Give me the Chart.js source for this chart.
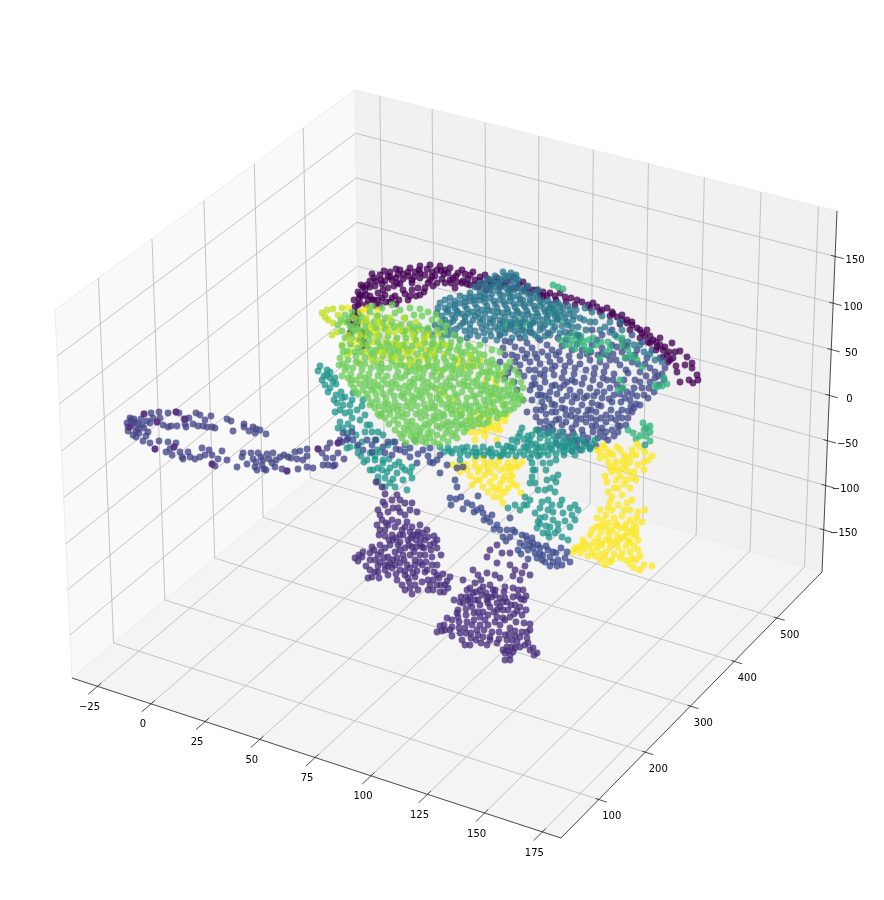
<!DOCTYPE html>
<html>
<head>
<meta charset="utf-8">
<title>3D scatter</title>
<script src="https://cdn.jsdelivr.net/npm/chart.js@4"></script>
<style>
    body { margin: 0; background: #fff; }
    canvas { display: block; }
</style>
</head>
<body>
<canvas id="scatter3d" width="884" height="900"></canvas>
<script>
// ============================
// DATA (ticks and clusters, points read off the projected view)
// ============================
const xTicks = [-25, 0, 25, 50, 75, 100, 125, 150, 175];
const yTicks = [100, 200, 300, 400, 500];
const zTicks = [-150, -100, -50, 0, 50, 100, 150];

const xLimits = [-37, 183];
const yLimits = [21, 609];
const zLimits = [-198, 198];

const rimPoints = [[352,325],[353,316],[355,307],[359,298],[363,287],[370,281],[380,275],[390,272],[400,270],[410,268],[420,266],[430,265],[440,266],[450,268],[462,270],[473,272],[485,275],[497,278],[513,277],[523,282],[537,290],[550,293],[565,297],[577,300],[597,307],[617,317],[627,323],[637,328],[645,336],[650,343],[657,347],[663,350],[670,360],
[360,303],[366,295],[375,286],[385,281],[396,278],[408,276],[420,273],[432,272],[444,274],[456,276],[468,279],[480,281],[492,284],[505,284],[516,288],[530,293],[543,297],[612,312],[622,320],[632,325],[642,333],[653,340],[358,314],[357,325],[362,332],[364,342],[361,285],[372,274],[384,271],[396,269],[415,272],[427,269],[445,270],[465,274],[378,293],[388,288],[400,284],[412,283],[382,298],[395,296],[408,300],[420,295],[433,286],[445,283],[455,288],[405,294],[418,288],[430,280],[470,285],[486,290],
[672,343],[660,338],[680,351],[687,357],[692,363],[697,375],[693,383],[680,382],[677,372],[692,368],[676,366],[685,365],[689,380],[698,380],
[350,333],[349,322],[356,320],[354,300],[358,292],[365,290],[370,287],[376,281],[382,284],[388,276],[392,280],[398,274],[403,279],[408,272],[414,277],[419,270],[425,275],[432,277],[437,270],[442,279],[448,273],[453,278],[458,273],[463,281],[470,275],[475,280],[480,277],[488,279],[495,281],[502,282],[508,281],[519,284],[527,287],[533,290],[543,292],[555,296],[560,293],[571,298],[582,302],[588,305],[593,303],[602,310],[607,308],[613,314],[622,315],[627,320],[632,322],[640,330],[647,330],[650,336],[656,342],[660,345],[667,355],[663,357],[673,358],[669,352],[370,296],[374,300],[385,295],[392,298],[399,300],[412,290],[425,288],[437,283],[450,280],[462,283],[475,285],[490,287],[403,290],[416,296],[390,302],[380,305],[360,340],[362,336],[363,346],[358,322],[372,300],[366,305],[360,295],[394,286],[383,290],
[355,312],[352,330],[358,305],[362,296],[367,285],[374,278],[381,280],[390,277],[397,283],[403,274],[412,280],[420,278],[428,283],[435,276],[441,271],[451,283],[457,282],[467,284],[478,287],[483,284],[490,282],[500,287],[510,289],[525,290],[540,295],[547,296],[556,300],[566,302],[575,305],[590,308],[600,312],[610,316],[620,324],[630,330],[640,338],[648,342],[656,350],[665,347],[675,352],[668,362],[378,300],[386,302],[396,304],[376,306],[368,300],[410,296],[424,292]];

const loopPoints = [[144,414],[151,413],[159,412],[168,413],[176,412],[179,413],[196,413],[200,415],[211,416],[205,420],[189,418],[184,419],[227,419],[231,421],[244,424],[244,427],[253,427],[260,430],[266,434],[233,431],[255,433],[215,428],[212,427],[203,426],[193,424],[185,424],[177,426],[171,426],[163,425],[157,422],[150,423],[141,419],[131,420],[127,423],[128,427],[133,435],[136,437],[143,441],[150,443],[155,449],[159,441],[168,442],[174,447],[166,452],[172,455],[180,452],[188,452],[183,459],[195,459],[200,457],[202,448],[205,455],[212,455],[222,451],[227,460],[215,466],[212,464],[237,467],[242,457],[243,453],[251,453],[258,453],[253,459],[247,464],[255,467],[263,460],[267,454],[273,453],[280,457],[288,457],[295,452],[300,451],[307,449],[297,459],[303,460],[307,456],[318,449],[327,448],[338,443],[342,442],[330,443],[322,453],[333,458],[338,453],[344,459],[323,465],[328,465],[335,465],[313,468],[307,467],[298,469],[287,471],[282,469],[275,467],[272,463],[266,470],[257,470],[262,465],[132,425],[136,431],[130,418],[138,424],[144,428],[148,432],[138,429],[146,436],[135,422],[128,431],[153,418],[160,418],
[134,419],[142,425],[139,433],[147,421],[168,427],[186,427],[198,426],[207,427],[256,429],[249,431],[176,443],[182,457],[170,449],[190,457],[209,450],[218,459],[261,457],[269,459],[276,460],[284,455],[291,458],[256,462],[264,469],[333,466],[326,458],[347,440]];

const loopPurple = [[144,414],[176,412],[157,422],[174,447],[155,449],[212,464],[287,471],[318,449],[338,443],[185,419],[130,427]];

const bowlPoints = [[500,335],[510,342],[520,338],[530,332],[540,340],[548,333],[558,338],[570,333],[580,338],[592,330],[602,335],[612,330],[622,340],[632,335],[642,342],[652,350],[660,358],[665,368],[658,376],[650,368],[640,372],[632,362],[622,352],[612,345],[602,348],[592,345],[582,350],[572,350],[562,346],[552,350],[542,352],[532,348],[522,350],[512,355],[503,348],
[500,362],[510,368],[520,365],[530,362],[540,364],[550,362],[560,360],[570,362],[580,364],[590,360],[600,362],[610,360],[620,365],[628,373],[640,382],[650,382],[654,392],[644,395],[634,388],[624,380],[614,374],[604,372],[594,374],[584,378],[574,374],[564,372],[554,375],[544,376],[534,378],[524,376],[514,382],[505,378],
[530,390],[540,388],[550,392],[560,388],[570,390],[580,392],[590,388],[600,385],[610,388],[620,394],[630,400],[640,405],[632,412],[622,410],[612,402],[602,398],[592,403],[582,405],[572,402],[562,400],[552,404],[542,402],[532,400],[536,410],[546,414],[556,412],[566,415],[576,418],[586,415],[596,412],[606,415],[616,420],[626,425],[612,430],[602,428],[592,426],[582,430],[572,428],[562,425],[552,424],[540,422],[548,433],[558,436],[568,437],[578,440],[588,438],[598,438],[608,440],[590,448],[580,450],[570,443],[600,432],[618,432],[628,418],[545,396],[575,382],[595,368],[655,378],[664,380],[647,358],[517,390],[523,400],[527,412],
[505,341],[515,347],[527,343],[535,354],[547,345],[556,355],[566,340],[577,344],[587,354],[597,340],[607,355],[617,347],[627,346],[637,350],[646,376],[638,364],[515,362],[525,358],[535,370],[545,370],[555,366],[565,366],[575,368],[586,370],[598,355],[606,366],[616,360],[626,358],[535,384],[545,382],[555,385],[567,382],[577,398],[587,396],[597,392],[607,380],[617,385],[627,392],[637,396],[538,395],[549,399],[557,394],[567,396],[572,410],[562,408],[552,412],[541,410],[591,410],[601,406],[611,410],[621,402],[631,406],[536,417],[546,421],[556,420],[566,422],[576,424],[586,422],[596,420],[606,422],[618,426],[553,430],[563,432],[573,433],[583,435],[593,432],[604,437],[577,446],[586,443],[572,451],[544,428],[635,380],[626,370],[649,388],[659,385],
[505,355],[517,357],[527,354],[537,358],[548,356],[559,352],[569,356],[580,356],[591,352],[602,354],[613,354],[624,346],[635,355],[645,364],[655,372],[662,374],[508,373],[519,372],[529,370],[540,374],[552,369],[562,378],[572,380],[582,384],[593,380],[603,378],[613,380],[622,388],[632,394],[642,388],[648,398],[636,404],[532,385],[541,395],[552,386],[564,385],[574,396],[584,398],[594,396],[604,392],[614,395],[625,398],[634,408],[544,407],[555,405],[565,409],[578,411],[588,410],[598,405],[609,399],[618,414],[628,411],[538,430],[549,427],[559,419],[571,416],[581,419],[591,418],[601,418],[611,418],[622,418],[556,443],[565,447],[574,440],[585,442],[596,446],[606,432],[596,426],[614,436],[620,426]];

const lowerBluePoints = [[343,433],[353,440],[363,450],[367,440],[383,447],[400,450],[410,457],[423,450],[433,463],[417,463],[463,467],[376,440],[392,455],[405,445],[440,455],[430,448],[415,440],[395,442],[372,452],[430,462],[447,465],[457,468],[440,473],[455,480],[457,487],[450,498],[456,499],[467,503],[461,497],[477,510],[472,505],[483,513],[487,518],[492,515],[497,525],[490,522],[503,537],[484,520],[478,496],[510,518],[513,530],
[522,535],[527,540],[533,543],[540,548],[528,550],[535,553],[543,555],[550,557],[558,560],[565,558],[570,562],[562,565],[553,562],[545,562],[537,558],[530,545],[520,543],[515,532],[510,537],[524,546],[548,550],[556,553],[567,552],[542,560],[533,548],[518,550],
[348,438],[358,445],[372,445],[388,442],[396,449],[405,452],[418,454],[428,456],[437,460],[410,448],[385,453],[352,432],[340,440],[451,505],[463,509],[474,512],[481,508],[494,529],[500,530],[526,536],[538,545],[546,546],[553,552],[561,548],[550,566],[557,566],[540,554],[532,538],[507,530],[506,541],[521,554],[528,559]];

const legPoints = [[382,487],[385,494],[383,502],[397,495],[400,500],[405,503],[412,503],[417,512],[410,510],[405,515],[380,515],[377,525],[385,530],[382,520],[388,512],[358,561],[355,558],[362,557],[370,553],[378,555],[385,548],[393,540],[400,535],[410,532],[420,525],[425,540],[430,545],[420,555],[410,555],[400,550],[395,565],[385,570],[375,572],[372,577],[385,565],[445,585],[440,592],[433,580],[425,572],[437,565],[428,590],[415,585],[405,575],[402,585],[405,590],[392,535],[400,542],[408,540],[416,540],[412,547],[404,560],[395,552],[388,557],[415,565],[425,555],[432,557],[422,565],[410,568],[400,570],[390,545],[380,562],[378,572],[370,570],[368,578],[418,532],[427,530],[434,536],[437,548],[415,577],[433,590],[428,580],[397,580],[443,574],[450,577],[388,575],
[497,545],[487,557],[497,563],[473,570],[487,573],[463,580],[467,590],[510,553],[515,570],[525,566],[530,575],[520,580],[437,632],[447,618],[457,613],[463,603],[473,593],[483,587],[497,603],[513,597],[523,590],[520,607],[510,617],[520,637],[537,653],[530,650],[510,655],[505,653],[497,643],[483,637],[470,645],[465,645],[445,630],[452,627],[459,622],[466,615],[472,607],[478,600],[488,597],[490,607],[483,612],[474,620],[465,628],[460,633],[477,630],[488,625],[497,617],[503,610],[507,602],[510,628],[516,622],[522,615],[505,635],[512,640],[520,647],[528,643],[515,648],[470,597],[482,595],[495,595],[475,583],[490,585],[504,592],[466,609],[478,612],[452,620],[458,610],[500,625],[492,632],[476,640],[507,647],[530,624],[527,632],[505,660],[510,660],
[392,520],[379,535],[386,523],[389,540],[395,527],[402,530],[407,522],[412,527],[417,535],[423,533],[398,545],[405,548],[414,552],[422,547],[431,550],[437,540],[407,565],[403,555],[393,560],[381,552],[370,560],[363,552],[372,547],[380,545],[388,566],[396,574],[417,571],[426,562],[434,572],[439,578],[422,582],[412,594],[409,582],[437,585],[444,592],[447,581],[378,566],[415,560],[400,563],[411,538],[420,544],[393,508],[398,508],[376,482],
[470,603],[476,592],[466,597],[486,593],[480,605],[474,613],[467,622],[459,628],[452,636],[444,625],[487,600],[494,612],[503,602],[508,610],[515,605],[521,599],[497,610],[485,620],[480,625],[471,633],[484,630],[490,640],[503,618],[499,632],[509,634],[515,631],[524,623],[517,642],[525,645],[533,648],[503,650],[513,652],[508,651],[471,638],[462,640],[493,590],[505,598],[513,588],[518,596],[524,600],[461,597],[454,600],[495,575],[481,580],[510,565],[490,550],[502,553],
[385,505],[392,500],[400,512],[378,510],[388,525],[380,530],[385,536],[398,522],[405,527],[413,535],[421,538],[396,538],[403,535],[409,545],[416,547],[424,548],[428,537],[434,543],[441,555],[420,562],[427,570],[413,573],[405,571],[397,558],[390,563],[384,558],[375,560],[366,566],[374,550],[359,555],[379,578],[392,568],[408,578],[418,590],[410,588],[430,585],[437,575],[432,565],[441,585],[448,588],
[468,600],[475,600],[480,590],[488,603],[492,597],[500,598],[511,605],[517,611],[514,614],[505,620],[495,622],[488,615],[480,617],[472,625],[466,633],[458,617],[450,630],[442,631],[440,626],[478,635],[490,637],[499,639],[507,640],[515,636],[522,632],[527,638],[530,630],[534,655],[512,647],[487,645],[481,643],[500,607],[495,590],[505,587],[526,610],[518,590],[526,596],[460,602],[470,588],[478,575],[500,578],[513,576],[522,573]];

const capPoints = [[505,276],[512,279],[500,283],[510,285],[520,288],[490,287],[480,292],[470,293],[460,296],[450,298],[498,291],[508,293],[518,296],[528,294],[538,298],[548,301],[558,303],[568,306],[576,310],[440,303],[450,305],[460,303],[470,301],[480,300],[490,298],[500,300],[510,301],[520,303],[530,303],[540,306],[550,308],[560,312],[570,314],[580,318],[590,322],[437,313],[447,312],[457,311],[467,309],[477,308],[487,306],[497,308],[507,309],[517,311],[527,311],[537,313],[547,318],[557,320],[567,322],[578,327],[600,330],[610,322],[445,320],[455,318],[465,317],[475,316],[485,314],[495,316],[505,317],[515,319],[525,319],[535,321],[545,325],[555,327],[565,332],[440,328],[460,326],[470,324],[480,323],[490,323],[500,324],[510,326],[520,327],[530,329],[540,330],[455,335],[475,331],[490,331],[505,333],[518,334],[432,335],[467,338],[497,340],[485,340],[510,291],[518,280],[528,286],[538,290],[592,312],[602,316],[622,330],[634,345],[644,352],[655,360],[487,279],[495,276],[503,272],[511,273],[516,275],[480,283],
[495,283],[505,280],[515,284],[485,285],[475,287],[492,294],[503,296],[513,297],[523,300],[533,298],[543,303],[553,305],[563,308],[475,297],[485,295],[465,298],[455,301],[445,308],[455,308],[465,306],[475,304],[485,302],[495,304],[505,305],[515,307],[525,307],[535,309],[545,312],[555,316],[565,318],[573,320],[442,316],[452,315],[462,314],[472,312],[482,310],[492,311],[502,313],[512,315],[522,315],[532,317],[542,320],[552,323],[562,326],[572,327],[450,323],[465,321],[480,318],[490,319],[500,320],[510,322],[520,323],[530,325],[540,325],[450,330],[465,331],[482,328],[495,327],[505,329],[515,331],[525,332],[535,335],[550,335],[442,336],[460,340],[478,336],[491,336],[512,338],[435,325],[428,330],[500,287],[522,292],[585,308],[595,322],[605,327],[615,335],[628,342],[640,345],[650,354],[662,362],[586,330],[578,335],[620,322],[610,332],
[500,279],[508,276],[516,278],[492,280],[484,288],[494,287],[506,288],[514,290],[524,290],[534,293],[470,297],[480,296],[490,290],[500,294],[510,297],[520,299],[530,300],[540,301],[550,304],[560,306],[570,310],[445,300],[455,305],[465,302],[474,300],[484,298],[494,301],[504,302],[514,304],[524,305],[534,306],[544,309],[554,311],[564,314],[574,316],[584,320],[438,308],[448,310],[458,313],[468,314],[478,313],[488,310],[498,312],[508,312],[518,313],[528,314],[538,316],[548,315],[558,318],[568,325],[442,322],[453,321],[463,323],[473,320],[483,320],[493,321],[503,322],[513,324],[523,322],[533,323],[543,328],[553,330],[446,328],[456,329],[470,329],[486,326],[498,330],[510,329],[522,330],[532,333],[448,335],[470,335],[484,333],[500,335],[525,338],[538,338],[545,336],[560,333]];

const greenPoints = [[553,285],[558,287],[563,289],[548,311],[553,313],[557,315],[567,337],[572,340],[578,343],[584,346],[590,350],[574,333],[581,336],[589,340],[596,345],[507,323],[514,325],[523,327],[529,323],[617,337],[622,345],[628,350],[632,357],[637,360],[657,387],[662,386],[667,384],[664,378],[643,423],[646,428],[650,432],[650,441],[633,433],[640,436],[620,380],[623,388],[618,390],[600,358],[606,352],[565,345],[560,340],[548,322],[642,367],[655,385],[608,342],
[550,308],[555,309],[560,320],[570,345],[576,336],[583,341],[593,338],[601,342],[575,349],[586,351],[610,348],[502,328],[518,321],[644,430],[650,426],[636,439],[628,430],[646,436],[630,355],[625,358],[622,338]];

const ringPoints = [[440,447],[448,448],[456,449],[464,451],[472,452],[480,452],[488,451],[496,453],[504,452],[512,451],[520,452],[528,450],[536,451],[544,452],[552,450],[560,449],[568,449],[576,448],[584,446],[592,444],[517,442],[524,439],[532,435],[540,438],[548,441],[556,440],[564,438],[572,441],[520,433],[528,443],[536,444],[546,446],[558,445],[507,446],[498,445],[512,440],[580,440],[532,463],[533,470],[532,477],[535,483],[543,463],[550,463],[558,475],[547,480],[550,488],[555,492],[562,500],[542,502],[540,508],[545,517],[550,527],[555,533],[543,533],[570,508],[578,510],[563,513],[570,527],[568,540],[562,537],[527,505],[515,505],[508,508],[525,497],[540,518],[548,510],[553,520],[537,528],[558,524],[530,458],[538,456],[556,460],[564,455],[575,455],
[318,371],[327,370],[322,380],[330,378],[333,382],[328,392],[337,403],[345,397],[353,393],[363,400],[335,412],[345,413],[357,410],[340,422],[347,433],[350,447],[358,453],[370,470],[378,477],[383,460],[377,450],[370,425],[383,435],[393,442],[330,388],[324,376],[336,395],[350,405],[343,405],[365,415],[348,424],[356,435],[365,432],[375,440],[362,442],[347,448],[370,453],[383,463],[373,470],[397,473],[412,467],[390,483],[412,478],[407,490],[357,447],[364,462],[378,468],[387,472],[395,465],[403,480],[378,482],[385,478],[460,460],[645,445],
[444,452],[452,453],[460,454],[468,455],[476,456],[484,455],[492,456],[500,456],[508,455],[516,456],[524,455],[532,454],[540,455],[548,455],[556,454],[564,452],[572,451],[582,450],[590,449],[524,447],[532,445],[541,447],[552,445],[567,443],[528,436],[536,430],[522,428],[545,435],[553,436],[563,442],[575,436],[510,447],[503,449],[491,449],[483,447],[475,448],[467,447],[330,372],[320,366],[334,400],[340,410],[352,418],[343,428],[360,420],[372,432],[336,384],[341,392],[352,400],[380,452],[367,460],[375,460],[389,459],[399,462],[405,470],[393,479],[385,487],[361,456],[546,470],[538,490],[556,482],[548,500],[535,470],[530,483],[552,505],[572,515],[546,526],[540,524],[549,537],[553,512],[565,521],[535,513],[520,510],[575,520],[524,505],
[450,451],[462,448],[476,453],[490,453],[502,455],[514,448],[526,448],[538,448],[550,448],[562,446],[530,440],[540,433],[550,431],[518,437],[560,432],[572,445],[584,442],[595,440],[327,375],[335,378],[325,385],[342,398],[350,412],[362,406],[338,428],[352,428],[367,425],[378,432],[388,445],[375,456],[390,468],[402,467],[395,487],[410,472],[382,470],[545,490],[553,478],[560,505],[575,505],[548,533],[558,530],[538,522],[530,500]];

const rearYellowPoints = [[597,450],[603,445],[610,452],[617,447],[624,455],[632,450],[640,447],[648,460],[652,456],[600,458],[608,462],[616,462],[622,468],[630,462],[638,465],[644,470],[612,472],[620,476],[628,472],[636,480],[607,482],[614,488],[630,488],[608,492],[622,495],[632,500],[610,502],[618,505],[630,510],[638,512],[600,510],[597,518],[606,515],[614,518],[622,516],[630,520],[637,518],[645,510],[596,527],[604,526],[612,530],[620,528],[628,532],[636,528],[642,522],[590,535],[598,538],[606,540],[614,542],[622,538],[630,542],[638,540],[583,540],[590,546],[578,548],[597,548],[606,552],[614,554],[630,552],[638,550],[573,552],[580,553],[588,556],[600,560],[610,562],[626,560],[636,560],[634,568],[644,565],[652,566],[640,570],[605,565],[612,560],
[467,470],[475,460],[483,458],[491,462],[500,458],[508,463],[515,460],[522,462],[452,465],[460,472],[470,476],[480,468],[490,472],[500,470],[510,472],[480,480],[490,482],[500,484],[510,480],[517,486],[521,493],[496,490],[505,492],[500,497],[508,488],[472,485],[488,492],[470,418],[480,425],[490,420],[500,418],[507,415],[495,430],[485,436],[475,440],[490,410],[503,405],[470,432],[497,440],
[605,448],[613,455],[627,458],[636,455],[644,462],[614,466],[626,466],[634,472],[616,480],[624,484],[612,497],[627,503],[624,510],[608,508],[603,520],[609,523],[617,524],[626,524],[634,524],[601,532],[609,535],[617,535],[625,536],[633,535],[594,542],[602,545],[610,547],[618,547],[626,546],[634,546],[585,549],[592,552],[601,554],[622,553],[632,558],[475,466],[485,464],[495,466],[505,468],[515,467],[462,465],[485,475],[495,477],[505,476],[483,487],[494,497],[503,503],[512,476],[472,425],[482,431],[490,427],[498,424],[505,421],[485,416],[496,412],[479,418],
[600,452],[620,450],[637,444],[645,452],[606,456],[623,461],[632,455],[610,468],[618,470],[605,476],[626,480],[632,478],[618,488],[612,510],[600,526],[608,530],[616,525],[625,528],[632,530],[592,530],[600,543],[610,541],[618,541],[628,541],[636,534],[581,546],[595,556],[605,558],[620,558],[630,564],[640,556],[575,548],[585,543],[488,468],[478,472],[466,465],[458,466],[498,462],[510,467],[518,466],[476,480],[493,487],[503,480],[513,484],[500,490],[478,412],[492,425],[500,430],[486,430],[476,433]];

const limePoints = [[322,313],[327,310],[333,309],[342,308],[328,320],[333,323],[343,322],[332,335],[337,332],[325,317],[338,315],[362,322],[370,325],[378,330],[386,328],[394,332],[404,334],[414,338],[424,342],[432,345],[366,336],[374,342],[382,346],[392,344],[402,348],[412,352],[422,356],[370,356],[380,360],[390,358],[400,362],[410,366],[420,368],[434,358],[444,354],[450,346],[470,362],[480,360],[490,372],[500,374],[438,334],[360,312],[368,308],[376,316],[355,330],[348,335],[445,395],[460,412],[350,352],[358,362],[440,372],
[366,318],[372,328],[382,322],[390,325],[398,326],[408,328],[418,330],[428,333],[358,340],[368,345],[376,352],[386,340],[396,340],[406,342],[416,346],[426,350],[436,350],[352,345],[364,352],[396,354],[406,356],[416,360],[428,365],[456,358],[464,368],[476,366],[486,380],[496,385],[492,395],[452,400],[438,390],[354,318],[342,345],[347,355]];

const leafPoints = [[345,315],[352,312],[361,317],[370,312],[378,316],[386,318],[395,313],[405,318],[414,315],[422,316],[432,320],[440,322],[338,325],[347,322],[356,325],[365,328],[374,322],[383,323],[392,322],[401,325],[410,324],[419,326],[428,328],[437,330],[445,332],[454,335],[345,338],[353,332],[361,338],[370,334],[379,336],[388,336],[397,338],[406,338],[415,333],[424,336],[433,338],[442,340],[451,342],[460,340],[468,345],[342,346],[350,344],[358,348],[367,346],[376,350],[385,350],[394,350],[403,345],[412,346],[421,349],[430,350],[439,350],[448,352],[457,350],[466,352],[475,350],[484,355],[492,360],[340,358],[348,360],[356,356],[365,358],[374,362],[383,356],[392,362],[401,358],[410,359],[419,362],[428,360],[437,362],[446,362],[455,360],[463,362],[472,359],[481,366],[490,366],[498,368],[345,370],[353,368],[362,370],[371,368],[380,372],[389,368],[398,372],[407,372],[416,372],[425,368],[434,372],[443,370],[452,372],[461,368],[470,372],[479,375],[488,378],[497,380],[505,372],[348,378],[356,380],[365,378],[374,382],[383,380],[392,382],[401,378],[410,382],[419,378],[428,382],[437,380],[446,382],[455,378],[464,381],[473,382],[482,385],[491,388],[500,390],[508,385],[354,388],[363,390],[372,390],[381,388],[390,392],[399,388],[408,392],[417,390],[426,392],[435,388],[444,392],[453,388],[462,392],[471,390],[480,394],[489,397],[498,400],[507,396],[516,392],[368,398],[377,400],[386,398],[395,402],[404,398],[413,402],[422,398],[431,402],[440,400],[449,398],[458,402],[467,398],[476,402],[485,405],[494,408],[503,405],[512,402],[520,396],[375,408],[384,410],[393,408],[402,412],[411,408],[420,412],[429,408],[438,412],[447,408],[456,411],[465,408],[474,412],[483,414],[492,412],[500,414],[510,410],[518,404],[385,418],[394,420],[403,417],[412,421],[421,418],[430,422],[439,418],[448,422],[457,418],[466,421],[475,420],[484,424],[395,430],[404,428],[413,432],[422,428],[431,432],[440,428],[449,430],[458,428],[467,428],[402,438],[411,436],[425,438],[434,442],[443,438],[452,436],[428,433],[518,375],[510,362],[500,352],[492,350],[480,345],
[349,318],[357,320],[366,322],[342,331],[351,328],[360,332],[369,340],[378,342],[387,343],[396,345],[405,331],[414,328],[423,330],[432,344],[441,346],[450,348],[459,346],[347,351],[355,352],[363,343],[372,354],[381,364],[390,352],[399,352],[408,351],[417,354],[426,355],[435,356],[444,358],[453,366],[462,356],[471,355],[343,364],[351,374],[360,364],[369,374],[378,367],[387,376],[396,366],[405,366],[414,366],[423,374],[432,366],[441,376],[450,366],[459,374],[468,366],[477,360],[486,372],[495,374],[351,384],[360,384],[369,386],[378,376],[396,377],[405,386],[414,384],[423,386],[432,376],[450,385],[468,386],[477,386],[486,391],[495,394],[504,380],[358,394],[367,394],[376,394],[385,404],[394,396],[403,393],[412,396],[421,392],[430,396],[439,394],[448,404],[457,396],[466,404],[475,396],[484,400],[493,402],[502,398],[511,395],[372,403],[381,414],[390,414],[399,406],[408,402],[417,406],[426,416],[435,406],[444,416],[453,405],[462,414],[471,406],[480,410],[489,416],[505,410],[514,408],[378,414],[398,424],[407,422],[416,426],[425,424],[434,416],[443,424],[452,425],[461,424],[470,416],[408,430],[417,436],[426,443],[437,435],[446,433],[455,433],[463,425],[406,443],[416,442],[480,418],[490,403],[512,381],[506,366],
[372,306],[382,308],[392,305],[400,310],[410,308],[420,309],[428,312],[436,315],[446,326],[341,320],[350,326],[358,329],[367,332],[376,328],[385,329],[394,327],[403,331],[412,330],[343,352],[352,338],[361,352],[370,350],[380,347],[389,346],[398,348],[407,349],[416,340],[425,343],[434,344],[443,345],[452,357],[461,352],[470,347],[479,354],[487,362],[494,364],[339,365],[347,367],[356,362],[365,364],[374,356],[383,368],[392,356],[401,365],[410,371],[419,368],[428,366],[437,368],[446,368],[455,370],[464,374],[473,366],[482,372],[490,372],[499,375],[507,367],[515,370],[521,382],[342,376],[351,380],[360,376],[369,380],[378,385],[387,384],[396,384],[405,376],[414,379],[423,380],[432,386],[441,386],[450,378],[459,384],[468,378],[477,380],[486,385],[495,388],[504,390],[513,386],[523,388],[356,392],[365,384],[374,388],[383,394],[392,388],[401,396],[410,387],[419,396],[428,388],[437,398],[446,388],[455,394],[464,386],[473,396],[482,390],[491,393],[500,396],[509,391],[518,398],[370,405],[379,406],[388,404],[397,410],[406,406],[415,398],[424,404],[433,408],[442,404],[451,410],[460,406],[469,410],[478,406],[487,410],[496,412],[505,414],[514,398],[523,400],[380,416],[389,410],[398,416],[407,414],[416,414],[425,410],[434,420],[443,414],[452,414],[461,416],[470,422],[479,424],[488,422],[497,418],[506,404],[389,424],[400,434],[410,426],[419,431],[428,426],[437,426],[446,426],[455,422],[464,432],[473,426],[414,440],[422,441],[430,438],[439,444],[448,442],[457,438],[420,434],[404,434]];

const limeTopPoints = [[366,320],[378,322],[390,318],[400,330],[412,334],[424,338],[376,336],[388,332],[398,345],[408,352],[420,345],[432,354],[382,352],[372,360],[360,335],[350,340],[445,345],[470,356],[395,358],[410,362],[404,318],[416,322]];

const fleckPoints = [[348,308],[378,310],[426,337],[380,325],[360,345],[460,360],[470,365],[495,380],[385,352],[375,333],[415,342],[428,352],[438,345],[403,350],[425,358],[368,330],[458,365],[364,310]];

const datasets = [];

// ============================
// PERSPECTIVE MAPPING FOR THE PANES
// ============================
function quadMapper(p0, p1, p2, p3) {
    const dx1 = p1[0] - p2[0], dx2 = p3[0] - p2[0], sx = p0[0] - p1[0] + p2[0] - p3[0];
    const dy1 = p1[1] - p2[1], dy2 = p3[1] - p2[1], sy = p0[1] - p1[1] + p2[1] - p3[1];
    const den = dx1 * dy2 - dx2 * dy1;
    const g = (sx * dy2 - dx2 * sy) / den;
    const h = (dx1 * sy - sx * dy1) / den;
    const a = p1[0] - p0[0] + g * p1[0], b = p3[0] - p0[0] + h * p3[0];
    const d = p1[1] - p0[1] + g * p1[1], e = p3[1] - p0[1] + h * p3[1];
    return (u, v) => {
        const w = g * u + h * v + 1;
        return { x: (a * u + b * v + p0[0]) / w, y: (d * u + e * v + p0[1]) / w };
    };
}

const frontLeft = [72, 678], front = [561, 838], right = [822, 572], back = [360, 436];
const topLeft = [55, 310], topBack = [355, 90], topRight = [837, 211];

const floorPane = quadMapper(frontLeft, front, right, back);   // u = x, v = y
const leftPane = quadMapper(frontLeft, back, topBack, topLeft); // u = y, v = z
const rightPane = quadMapper(back, right, topRight, topBack);  // u = x, v = z

const frac = (value, limits) => (value - limits[0]) / (limits[1] - limits[0]);

function addLine(points, color, width, order) {
    datasets.push({
        data: points, showLine: true, pointRadius: 0,
        borderColor: color, borderWidth: width, order: order
    });
}

function addPane(pane, color) {
    datasets.push({
        data: [pane(0, 0), pane(1, 0), pane(1, 1), pane(0, 1), pane(0, 0)],
        showLine: true, pointRadius: 0, fill: "shape",
        backgroundColor: color, borderColor: "#ececec", borderWidth: 1, order: 100
    });
}

addPane(leftPane, "#f9f9f9");
addPane(rightPane, "#f1f1f1");
addPane(floorPane, "#f4f4f4");

// Grid lines
xTicks.forEach(t => {
    const u = frac(t, xLimits);
    addLine([floorPane(u, 0), floorPane(u, 1), rightPane(u, 1)], "#bdbdbd", 0.9, 90);
    addLine([floorPane(u, 0.012), floorPane(u, -0.03)], "#222", 0.8, 80);
});
yTicks.forEach(t => {
    const u = frac(t, yLimits);
    addLine([leftPane(u, 1), leftPane(u, 0), floorPane(1, u)], "#bdbdbd", 0.9, 90);
    addLine([floorPane(0.994, u), floorPane(1.016, u)], "#222", 0.8, 80);
});
zTicks.forEach(t => {
    const v = frac(t, zLimits);
    addLine([leftPane(0, v), leftPane(1, v), rightPane(1, v)], "#bdbdbd", 0.9, 90);
    addLine([rightPane(0.992, v), rightPane(1.017, v)], "#222", 0.8, 80);
});

// Axis lines
addLine([floorPane(0, 0), floorPane(1, 0), floorPane(1, 1), rightPane(1, 1)], "#222", 0.8, 80);

// ============================
// CLUSTERS
// ============================
const clusters = [
    [rimPoints, "#440154"],
    [bowlPoints, "#3e4a89"],
    [greenPoints, "#2fb47c"],
    [capPoints, "#2a768e"],
    [rearYellowPoints, "#fde725"],
    [ringPoints, "#1f968b"],
    [lowerBluePoints, "#3b4a8c"],
    [loopPoints, "#414487"],
    [loopPurple, "#5c2a80"],
    [legPoints, "#472d7b"],
    [limePoints, "#c2df23"],
    [fleckPoints, "#fde725"],
    [leafPoints, "#6ccd59"],
    [limeTopPoints, "#b5de2b"]
];

clusters.forEach((cluster, i) => {
    datasets.push({
        data: cluster[0].map(p => ({ x: p[0], y: p[1] })),
        showLine: false,
        pointRadius: 3.4,
        pointBorderWidth: 0,
        pointBackgroundColor: cluster[1] + "c4",
        order: 50 - i
    });
});

// ============================
// TICK LABELS
// ============================
const tickText = t => String(t).replace("-", "\u2212");

const tickLabels = {
    id: "tickLabels",
    afterDatasetsDraw(chart) {
        const ctx = chart.ctx, sx = chart.scales.x, sy = chart.scales.y;
        const put = (t, p, dx, dy) =>
            ctx.fillText(tickText(t), sx.getPixelForValue(p.x) + dx, sy.getPixelForValue(p.y) + dy);
        ctx.save();
        ctx.font = "10px 'DejaVu Sans'";
        ctx.fillStyle = "#000";
        ctx.textAlign = "center";
        ctx.textBaseline = "middle";
        xTicks.forEach(t => put(t, floorPane(frac(t, xLimits), 0), -8, 21));
        yTicks.forEach(t => put(t, floorPane(1, frac(t, yLimits)), 13, 17));
        zTicks.forEach(t => put(t, rightPane(1, frac(t, zLimits)), 20, 4));
        ctx.restore();
    }
};

// ============================
// CHART
// ============================
new Chart(document.getElementById("scatter3d"), {
    type: "scatter",
    data: { datasets: datasets },
    options: {
        responsive: false,
        animation: false,
        devicePixelRatio: 1,
        layout: { padding: 0, autoPadding: false },
        plugins: { legend: { display: false }, tooltip: { enabled: false } },
        scales: {
            x: { type: "linear", min: 0, max: 884, display: false },
            y: { type: "linear", min: 0, max: 900, reverse: true, display: false }
        }
    },
    plugins: [tickLabels]
});
</script>
</body>
</html>
